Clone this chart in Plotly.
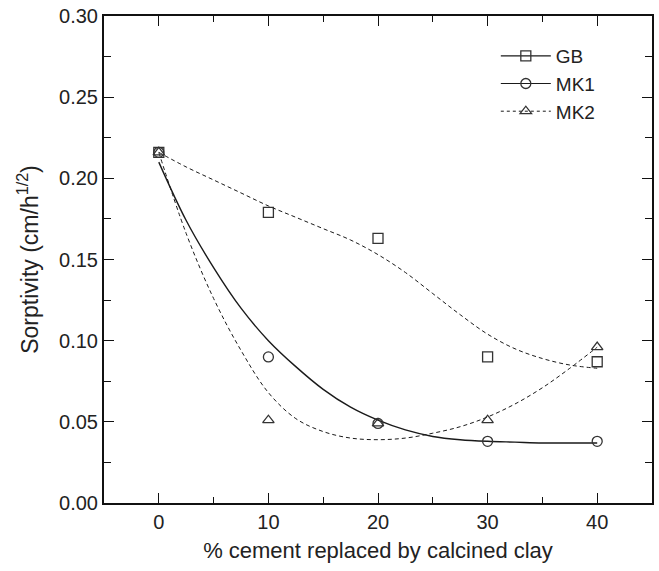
import plotly.graph_objects as go

# Measured data points
x_pts = [0, 10, 20, 30, 40]
gb_vals = [0.216, 0.179, 0.163, 0.090, 0.087]
mk1_vals = [0.216, 0.090, 0.049, 0.038, 0.038]
mk2_vals = [0.216, 0.051, 0.049, 0.051, 0.096]

# Fitted curves
x_fit = [0, 2.5, 5, 7.5, 10, 12.5, 15, 17.5, 20, 22.5, 25, 27.5, 30, 32.5, 35, 37.5, 40]
gb_fit = [0.216, 0.207, 0.199, 0.191, 0.183, 0.176, 0.169, 0.162, 0.153, 0.142, 0.129,
          0.116, 0.104, 0.095, 0.089, 0.085, 0.083]
mk1_fit = [0.210, 0.174, 0.145, 0.120, 0.100, 0.084, 0.070, 0.059, 0.051, 0.045, 0.041,
           0.039, 0.038, 0.0375, 0.037, 0.037, 0.037]
mk2_fit = [0.216, 0.166, 0.126, 0.094, 0.068, 0.052, 0.044, 0.040, 0.039, 0.040, 0.043,
           0.047, 0.053, 0.061, 0.071, 0.083, 0.096]

series_names = ["GB", "MK1", "MK2"]
x_ticks = [0, 10, 20, 30, 40]
y_ticks = [0.00, 0.05, 0.10, 0.15, 0.20, 0.25, 0.30]

LINE = "#1a1a1a"
DASH = "4px,3px"
FONT = "Liberation Sans, Arial, sans-serif"
TXT = "#222"

fig = go.Figure()

# fitted curves
fig.add_trace(go.Scatter(x=x_fit, y=gb_fit, mode="lines", line=dict(color=LINE, width=1, dash=DASH, shape="spline"),
                         showlegend=False, hoverinfo="skip"))
fig.add_trace(go.Scatter(x=x_fit, y=mk1_fit, mode="lines", line=dict(color=LINE, width=1.4, shape="spline"),
                         showlegend=False, hoverinfo="skip"))
fig.add_trace(go.Scatter(x=x_fit, y=mk2_fit, mode="lines", line=dict(color=LINE, width=1, dash=DASH, shape="spline"),
                         showlegend=False, hoverinfo="skip"))

# points
mk = dict(color="#333", size=10, line=dict(color="#333", width=1.3))
fig.add_trace(go.Scatter(x=x_pts, y=gb_vals, mode="markers", marker=dict(symbol="square-open", **mk), showlegend=False))
fig.add_trace(go.Scatter(x=x_pts, y=mk1_vals, mode="markers", marker=dict(symbol="circle-open", **mk), showlegend=False))
fig.add_trace(go.Scatter(x=x_pts, y=mk2_vals, mode="markers", marker=dict(symbol="triangle-up-open", **mk), showlegend=False))

# legend entries
fig.add_trace(go.Scatter(x=[None], y=[None], mode="lines+markers", name=series_names[0],
                         line=dict(color=LINE, width=1.2), marker=dict(symbol="square-open", **mk)))
fig.add_trace(go.Scatter(x=[None], y=[None], mode="lines+markers", name=series_names[1],
                         line=dict(color=LINE, width=1.2), marker=dict(symbol="circle-open", **mk)))
fig.add_trace(go.Scatter(x=[None], y=[None], mode="lines+markers", name=series_names[2],
                         line=dict(color=LINE, width=1, dash="3px,3px"), marker=dict(symbol="triangle-up-open", **mk)))

axis_common = dict(showline=True, linecolor="#111", linewidth=2, mirror="ticks", ticks="inside",
                   tickcolor="#111", tickwidth=1, ticklen=10, showgrid=False, zeroline=False,
                   tickfont=dict(family=FONT, size=20, color=TXT))

fig.update_layout(
    width=659, height=571,
    margin=dict(l=104, r=5, t=10, b=68),
    paper_bgcolor="white", plot_bgcolor="white",
    font=dict(family=FONT, size=20, color=TXT),
    xaxis=dict(range=[-5, 45], tickvals=x_ticks, ticktext=[str(v) for v in x_ticks],
               minor=dict(dtick=5, tick0=0, ticks="inside", ticklen=6, tickcolor="#111"),
               title=dict(text="% cement replaced by calcined clay", font=dict(family=FONT, size=22, color=TXT), standoff=11),
               **axis_common),
    yaxis=dict(range=[0, 0.30], tickvals=y_ticks, ticktext=[f"{v:.2f}" for v in y_ticks],
               ticklabeloverflow="allow",
               minor=dict(dtick=0.025, tick0=0, ticks="inside", ticklen=7, tickcolor="#111"),
               title=dict(text="Sorptivity (cm/h<sup>1/2</sup>)", font=dict(family=FONT, size=23, color=TXT), standoff=14),
               **axis_common),
    legend=dict(x=0.715, y=0.957, xanchor="left", yanchor="top", bgcolor="rgba(0,0,0,0)",
                font=dict(family=FONT, size=19, color=TXT), tracegroupgap=0, itemwidth=50),
)

fig.write_html("out.html", config={"displayModeBar": False},
               post_script="document.body.style.margin='0px';")
